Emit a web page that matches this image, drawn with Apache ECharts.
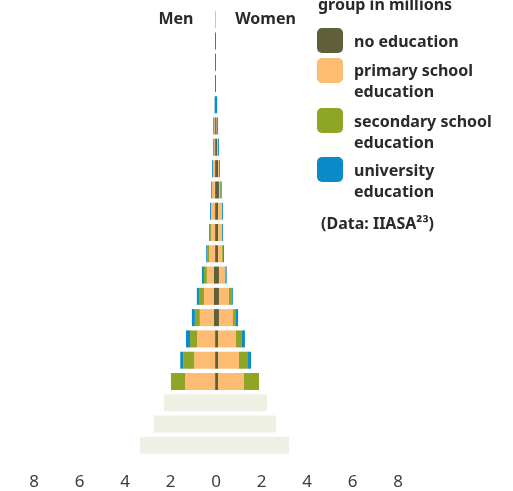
<!DOCTYPE html>
<html>
<head>
<meta charset="utf-8">
<script src="https://cdn.jsdelivr.net/npm/echarts@6/dist/echarts.min.js"></script>
<style>
  html, body { margin: 0; padding: 0; background: #ffffff; }
  #chart { width: 513px; height: 491px; }
</style>
</head>
<body>
<div id="chart"></div>
<script>
// Age groups, bottom to top
const ageGroups = ['0-4', '5-9', '10-14', '15-19', '20-24', '25-29', '30-34', '35-39', '40-44',
  '45-49', '50-54', '55-59', '60-64', '65-69', '70-74', '75-79', '80-84', '85-89', '90-94',
  '95-99', '100+'];

// Population in millions per age group (children: no education breakdown)
const menChildren   = [3.34, 2.73, 2.29, 0, 0, 0, 0, 0, 0, 0, 0, 0, 0, 0, 0, 0, 0, 0, 0, 0, 0];
const womenChildren = [3.21, 2.64, 2.24, 0, 0, 0, 0, 0, 0, 0, 0, 0, 0, 0, 0, 0, 0, 0, 0, 0, 0];

const menNoEducation    = [0, 0, 0, 0.04, 0.04, 0.04, 0.09, 0.09, 0.09, 0.04, 0.04, 0.04, 0.04, 0.04, 0.04, 0.04, 0, 0, 0, 0, 0];
const menPrimary        = [0, 0, 0, 1.32, 0.92, 0.79, 0.62, 0.44, 0.31, 0.26, 0.18, 0.18, 0.13, 0.09, 0.04, 0.04, 0, 0, 0, 0, 0.044];
const menSecondary      = [0, 0, 0, 0.62, 0.48, 0.31, 0.22, 0.22, 0.13, 0.09, 0.04, 0, 0, 0, 0, 0, 0, 0, 0, 0, 0];
const menUniversity     = [0, 0, 0, 0, 0.13, 0.18, 0.13, 0.09, 0.09, 0.04, 0.04, 0.04, 0.04, 0.04, 0.04, 0.04, 0.06, 0.044, 0.044, 0.044, 0];

const womenNoEducation  = [0, 0, 0, 0.09, 0.09, 0.09, 0.13, 0.13, 0.13, 0.09, 0.09, 0.09, 0.13, 0.09, 0.06, 0.03, 0, 0, 0, 0, 0];
const womenPrimary      = [0, 0, 0, 1.14, 0.92, 0.79, 0.62, 0.44, 0.26, 0.18, 0.18, 0.18, 0.04, 0.04, 0.03, 0.02, 0, 0, 0, 0, 0];
const womenSecondary    = [0, 0, 0, 0.66, 0.40, 0.26, 0.13, 0.13, 0.04, 0.04, 0, 0, 0.04, 0, 0, 0, 0, 0, 0, 0, 0];
const womenUniversity   = [0, 0, 0, 0, 0.13, 0.13, 0.09, 0.04, 0.04, 0.04, 0.04, 0.04, 0.04, 0.04, 0.04, 0.04, 0.05, 0, 0, 0, 0];

const educationLevels = ['no education', 'primary school\neducation', 'secondary school\neducation', 'university\neducation'];
const tickLabels = ['8', '6', '4', '2', '0', '2', '4', '6', '8'];

const colors = {
  noEducation: '#605f3b',
  primary: '#fdbc71',
  secondary: '#8fa526',
  university: '#0a8ac6',
  children: '#eef0e5',
  text: '#2a2a2a'
};
const levelColors = [colors.noEducation, colors.primary, colors.secondary, colors.university];
const FONT = '"Noto Sans", sans-serif';

function bar(name, values, stack, color, sign) {
  return {
    name: name,
    type: 'bar',
    stack: stack,
    barGap: '-100%',
    barCategoryGap: '20%',
    silent: true,
    itemStyle: { color: color },
    data: values.map(v => (v ? sign * v : null))
  };
}

const series = [
  bar('children', menChildren, 'men', colors.children, -1),
  bar('no education', menNoEducation, 'men', colors.noEducation, -1),
  bar('primary school education', menPrimary, 'men', colors.primary, -1),
  bar('secondary school education', menSecondary, 'men', colors.secondary, -1),
  bar('university education', menUniversity, 'men', colors.university, -1),
  bar('children', womenChildren, 'women', colors.children, 1),
  bar('no education', womenNoEducation, 'women', colors.noEducation, 1),
  bar('primary school education', womenPrimary, 'women', colors.primary, 1),
  bar('secondary school education', womenSecondary, 'women', colors.secondary, 1),
  bar('university education', womenUniversity, 'women', colors.university, 1)
];

// Legend drawn as graphic elements (marker + label)
const legendTops = [28, 58, 108, 157];
const legendTextY = [42, 82.3, 133.3, 182.3];
const graphics = [];
educationLevels.forEach((label, i) => {
  graphics.push({
    type: 'rect', left: 317, top: legendTops[i], silent: true,
    shape: { width: 26, height: 25, r: 5 },
    style: { fill: levelColors[i] }
  });
  graphics.push({
    type: 'text', x: 354, y: legendTextY[i], silent: true,
    style: {
      text: label, fill: colors.text, font: 'bold 16px ' + FONT,
      lineHeight: 21, verticalAlign: 'middle', align: 'left'
    }
  });
});
graphics.push(
  { type: 'text', x: 318, y: 5, silent: true,
    style: { text: 'group in millions', fill: colors.text, font: 'bold 16px ' + FONT, verticalAlign: 'middle', align: 'left' } },
  { type: 'text', x: 321, y: 224, silent: true,
    style: { text: '(Data: IIASA²³)', fill: colors.text, font: 'bold 16px ' + FONT, verticalAlign: 'middle', align: 'left' } },
  { type: 'text', x: 176, y: 19, silent: true,
    style: { text: 'Men', fill: colors.text, font: 'bold 16px ' + FONT, verticalAlign: 'middle', align: 'center' } },
  { type: 'text', x: 265.5, y: 19, silent: true,
    style: { text: 'Women', fill: colors.text, font: 'bold 16px ' + FONT, verticalAlign: 'middle', align: 'center' } }
);

const chart = echarts.init(document.getElementById('chart'), null, { renderer: 'canvas' });
chart.setOption({
  animation: false,
  backgroundColor: '#ffffff',
  grid: { left: 34, right: 115, top: 9, bottom: 35, containLabel: false, outerBoundsMode: 'none' },
  xAxis: {
    type: 'value',
    min: -8, max: 8, interval: 2,
    axisLine: { show: false },
    axisTick: { show: false },
    splitLine: { show: false },
    axisLabel: {
      margin: 18,
      fontSize: 17,
      fontFamily: FONT,
      color: '#3c3c3c',
      formatter: v => tickLabels[Math.round((v + 8) / 2)]
    }
  },
  yAxis: {
    type: 'category',
    data: ageGroups,
    show: false
  },
  series: series,
  graphic: graphics
});
</script>
</body>
</html>
